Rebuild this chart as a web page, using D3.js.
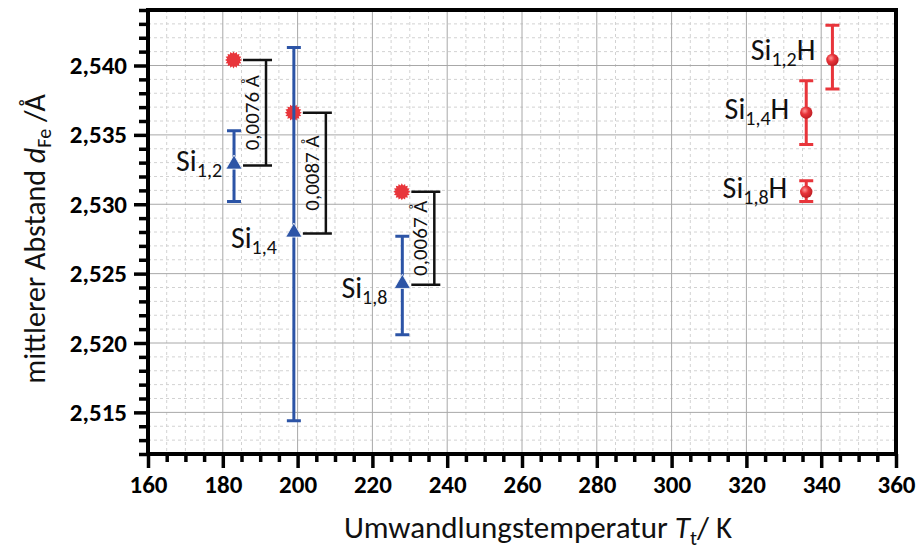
<!DOCTYPE html>
<html>
<head>
<meta charset="utf-8">
<script src="https://cdn.jsdelivr.net/npm/d3@7"></script>
<style>
  html, body { margin: 0; padding: 0; background: #fff; }
  svg { display: block; }
</style>
</head>
<body>
<svg id="chart" width="920" height="551"></svg>
<script>
// Si samples: transformation temperature, mean Fe distance and its uncertainty
const siNames = ["1,2", "1,4", "1,8"];
const siTemp = [183, 199, 228];
const siDist = [2.5328, 2.5279, 2.5242];
const siLow = [2.5302, 2.5144, 2.5206];
const siHigh = [2.5353, 2.5413, 2.5277];

// hydrogenated samples (SiH)
const hTemp = [343, 336, 336];
const hDist = [2.5404, 2.5366, 2.5309];
const hLow = [2.5383, 2.5343, 2.5302];
const hHigh = [2.5429, 2.5389, 2.5317];

// difference between Si and SiH, drawn at the Si temperature
const diffLabels = ["0,0076 Å", "0,0087 Å", "0,0067 Å"];

const xTicks = [160, 180, 200, 220, 240, 260, 280, 300, 320, 340, 360];
const yTicks = [2.515, 2.520, 2.525, 2.530, 2.535, 2.540];

const BLUE = "#2c54a6";
const RED = "#e8353b";
const FONT = "Carlito, 'Open Sans', sans-serif";

const svg = d3.select("#chart").attr("font-family", FONT);
const x = d3.scaleLinear().domain([160, 360]).range([148, 896]);
const y = d3.scaleLinear().domain([2.512, 2.544]).range([454, 10]);

const defs = svg.append("defs");
const grad = defs.append("radialGradient").attr("id", "ball")
  .attr("cx", "38%").attr("cy", "35%").attr("r", "65%");
grad.append("stop").attr("offset", "0%").attr("stop-color", "#ff9a9a");
grad.append("stop").attr("offset", "45%").attr("stop-color", "#e8353b");
grad.append("stop").attr("offset", "100%").attr("stop-color", "#c01f25");

// grid
const minorX = d3.range(160, 361, 5).filter(v => v % 20 !== 0);
const minorY = d3.range(2512, 2545, 1).filter(v => v % 5 !== 0).map(v => v / 1000);
const grid = svg.append("g");
grid.selectAll(".mx").data(minorX).join("line")
  .attr("x1", d => x(d)).attr("x2", d => x(d)).attr("y1", y(2.544)).attr("y2", y(2.512))
  .attr("stroke", "#d2d2d2").attr("stroke-dasharray", "3,3");
grid.selectAll(".my").data(minorY).join("line")
  .attr("y1", d => y(d)).attr("y2", d => y(d)).attr("x1", x(160)).attr("x2", x(360))
  .attr("stroke", "#d2d2d2").attr("stroke-dasharray", "3,3");
grid.selectAll(".Mx").data(xTicks).join("line")
  .attr("x1", d => x(d)).attr("x2", d => x(d)).attr("y1", y(2.544)).attr("y2", y(2.512))
  .attr("stroke", "#a8a8a8");
grid.selectAll(".My").data(yTicks).join("line")
  .attr("y1", d => y(d)).attr("y2", d => y(d)).attr("x1", x(160)).attr("x2", x(360))
  .attr("stroke", "#a8a8a8");

// axes: minor then major ticks
const fmtY = v => d3.format(".3f")(v).replace(".", ",");
function styleAxis(g) {
  g.attr("font-family", FONT).attr("font-size", 25);
  g.select(".domain").remove();
  g.selectAll(".tick line").attr("stroke", "#000").attr("stroke-width", 3.5);
}
function styleLabels(g) {
  g.selectAll(".tick text").attr("font-weight", "bold").attr("fill", "#000");
}
svg.append("g").attr("transform", `translate(${x(160)},0)`)
  .call(d3.axisLeft(y).tickValues(minorY).tickSize(9).tickFormat(""))
  .call(styleAxis);
svg.append("g").attr("transform", `translate(${x(160)},0)`)
  .call(d3.axisLeft(y).tickValues(yTicks).tickSize(14).tickPadding(7).tickFormat(fmtY))
  .call(styleAxis).call(styleLabels);
svg.append("g").attr("transform", `translate(0,${y(2.512)})`)
  .call(d3.axisBottom(x).tickValues(minorX).tickSize(8).tickFormat(""))
  .call(styleAxis);
svg.append("g").attr("transform", `translate(0,${y(2.512)})`)
  .call(d3.axisBottom(x).tickValues(xTicks).tickSize(14).tickPadding(7).tickFormat(d3.format("d")))
  .call(styleAxis).call(styleLabels);

// frame
svg.append("rect").attr("x", x(160)).attr("y", y(2.544))
  .attr("width", x(360) - x(160)).attr("height", y(2.512) - y(2.544))
  .attr("fill", "none").attr("stroke", "#000").attr("stroke-width", 4);

// axis titles
const xt = svg.append("text").attr("x", 538).attr("y", 538)
  .attr("text-anchor", "middle").attr("font-size", 31).attr("fill", "#111");
xt.append("tspan").text("Umwandlungstemperatur ");
xt.append("tspan").attr("font-style", "italic").text("T");
xt.append("tspan").attr("font-size", 21).attr("dy", 7).text("t");
xt.append("tspan").attr("dy", -7).text("/ K");

const yt = svg.append("text").attr("transform", "translate(45,239) rotate(-90)")
  .attr("text-anchor", "middle").attr("font-size", 30).attr("fill", "#111");
yt.append("tspan").text("mittlerer Abstand ");
yt.append("tspan").attr("font-style", "italic").text("d");
yt.append("tspan").attr("font-size", 20).attr("dy", 6).text("Fe");
yt.append("tspan").attr("dy", -6).text(" /Å");

// brackets between Si and SiH values
const br = svg.append("g");
siTemp.forEach((t, i) => {
  const x0 = x(t) + 9, xv = x(t) + 32, x1 = x(t) + 38;
  const yTop = y(hDist[i]), yBot = y(siDist[i]);
  br.append("path")
    .attr("d", `M${x0},${yTop}H${x1}M${xv},${yTop}V${yBot}M${x0},${yBot}H${x1}`)
    .attr("fill", "none").attr("stroke", "#111").attr("stroke-width", 2.5);
  br.append("text")
    .attr("transform", `translate(${xv - 7},${(yTop + yBot) / 2}) rotate(-90)`)
    .attr("text-anchor", "middle").attr("font-size", 21).attr("fill", "#111")
    .text(diffLabels[i]);
});

// red stars: SiH value placed at the Si temperature
const starPts = d3.range(32).map(k => {
  const r = k % 2 === 0 ? 8.5 : 6.5;
  const a = k * Math.PI / 16;
  return [r * Math.cos(a), r * Math.sin(a)];
});
const star = "M" + starPts.map(p => p.join(",")).join("L") + "Z";
svg.append("g").selectAll("path").data(siTemp).join("path")
  .attr("transform", (d, i) => `translate(${x(d) - 0.5},${y(hDist[i])})`)
  .attr("d", star).attr("fill", RED);

// Si error bars and triangles
const si = svg.append("g");
siTemp.forEach((t, i) => {
  const cx = x(t);
  si.append("path")
    .attr("d", `M${cx},${y(siLow[i])}V${y(siHigh[i])}M${cx - 7},${y(siLow[i])}H${cx + 7}M${cx - 7},${y(siHigh[i])}H${cx + 7}`)
    .attr("fill", "none").attr("stroke", BLUE).attr("stroke-width", 3);
  si.append("path")
    .attr("d", d3.symbol(d3.symbolTriangle, 115)())
    .attr("transform", `translate(${cx},${y(siDist[i]) - 1})`)
    .attr("fill", BLUE).attr("stroke", "#fff").attr("stroke-width", 0.8);
});

// SiH error bars and balls
const hg = svg.append("g");
hTemp.forEach((t, i) => {
  const cx = x(t);
  hg.append("path")
    .attr("d", `M${cx},${y(hLow[i])}V${y(hHigh[i])}M${cx - 7},${y(hLow[i])}H${cx + 7}M${cx - 7},${y(hHigh[i])}H${cx + 7}`)
    .attr("fill", "none").attr("stroke", RED).attr("stroke-width", 3);
  hg.append("circle").attr("cx", cx).attr("cy", y(hDist[i])).attr("r", 6.2)
    .attr("fill", "url(#ball)");
});

// sample labels
function sampleLabel(px, py, sub, suffix) {
  const t = svg.append("text").attr("x", px).attr("y", py)
    .attr("text-anchor", "end").attr("font-size", 30).attr("fill", "#111");
  t.append("tspan").text("Si");
  t.append("tspan").attr("font-size", 20).attr("dy", 6).text(sub);
  if (suffix) t.append("tspan").attr("dy", -6).text(suffix);
}
const siOff = [[-12, 6], [-17, 15], [-15, 13]];
siTemp.forEach((t, i) => sampleLabel(x(t) + siOff[i][0], y(siDist[i]) + siOff[i][1], siNames[i], ""));
const hOff = [[-17, 0], [-17, 6], [-19, 6]];
hTemp.forEach((t, i) => sampleLabel(x(t) + hOff[i][0], y(hDist[i]) + hOff[i][1], siNames[i], "H"));
</script>
</body>
</html>
